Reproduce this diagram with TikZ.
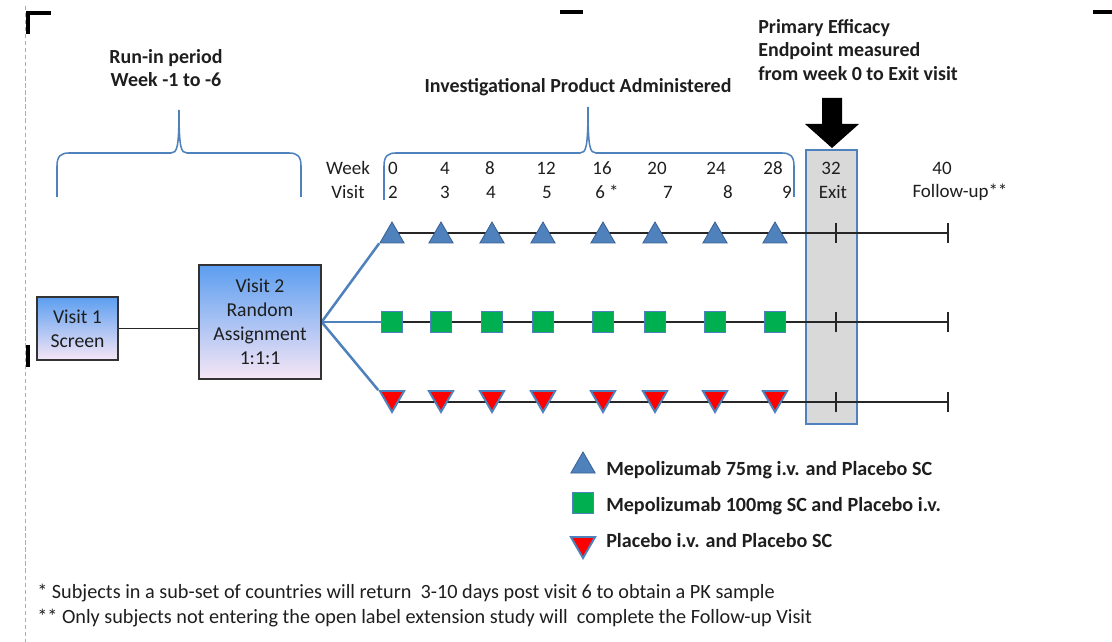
\documentclass[tikz,border=0pt]{standalone}
\usepackage{fontspec}
\setmainfont{Carlito}
\usepackage{tikz}
\usetikzlibrary{shapes,arrows,backgrounds,positioning}

\definecolor{ArmBlue}{RGB}{79,129,189}
\definecolor{ArmEdge}{RGB}{58,98,148}
\definecolor{ArmGreen}{RGB}{0,176,80}
\definecolor{ArmRed}{RGB}{255,0,0}
\definecolor{ExitGray}{RGB}{217,217,217}
\definecolor{BoxTop}{RGB}{92,158,240}
\definecolor{BoxBottom}{RGB}{246,230,246}
\definecolor{TextGray}{RGB}{30,30,30}
\definecolor{PageLine}{RGB}{140,180,225}

\begin{document}
\begin{tikzpicture}[x=0.025cm,y=-0.025cm]
		\tikzstyle{Head}	= [inner sep=0pt, text=TextGray, font=\bfseries\fontsize{14.2}{16.4}\selectfont]
		\tikzstyle{Tick}	= [inner sep=0pt, text=TextGray, font=\fontsize{13.5}{15}\selectfont]
		\tikzstyle{Visit}	= [draw=black!80, line width=0.9pt, top color=BoxTop, bottom color=BoxBottom, align=center, text=TextGray, font=\fontsize{14}{17}\selectfont, inner sep=0pt]
		\tikzstyle{Up}		= [regular polygon, regular polygon sides=3, minimum size=0.7cm, inner sep=0pt, fill=ArmBlue, draw=ArmEdge, line width=0.6pt]
		\tikzstyle{Box}		= [rectangle, minimum size=0.53cm, inner sep=0pt, fill=ArmGreen, draw=ArmBlue, line width=1.1pt]
		\tikzstyle{Down}	= [regular polygon, regular polygon sides=3, shape border rotate=180, minimum size=0.7cm, inner sep=0pt, fill=ArmRed, draw=ArmBlue, line width=1.4pt]
		\tikzstyle{Arm}		= [black!85, line width=1.4pt]
		\tikzstyle{Fan}		= [ArmBlue, line width=1.8pt]
		\tikzstyle{Brace}	= [ArmBlue, line width=1.1pt]
		\tikzstyle{Legend}	= [anchor=west, inner sep=0pt, text=TextGray, font=\bfseries\fontsize{14.3}{16}\selectfont]
		\tikzstyle{Note}	= [anchor=west, inner sep=0pt, text=TextGray, font=\fontsize{14.4}{16}\selectfont]
		\tikzstyle{Crop}	= [black, line width=2.2pt]

		\useasboundingbox (0,0) rectangle (1112,642);

		% page marks
		\draw [PageLine, densely dashed, line width=0.5pt] (25,6) -- (25,642);
		\draw [Crop] (28,34) -- (28,13) -- (51,13);
		\draw [Crop] (560,12) -- (583,12);
		\draw [Crop] (1093,12) -- (1112,12);
		\draw [Crop] (28,345) -- (28,367);

		% headings and braces
		\node (runin) at (166,68) [Head, align=center] {Run-in period\\Week -1 to -6};
		\node (ipa) at (578,87) [Head] {Investigational Product Administered};
		\node (pee) at (758,50) [Head, align=left, anchor=west] {Primary Efficacy\\Endpoint measured\\from week 0 to Exit visit};

		\draw [Brace] (57,197) -- (57,166) .. controls (57,156) and (61,153) .. (69,153) -- (171,153) .. controls (177,153) and (179,148) .. (179,110) .. controls (179,148) and (181,153) .. (187,153) -- (289,153) .. controls (297,153) and (301,156) .. (301,166) -- (301,197);
		\draw [Brace] (384,200) -- (384,166) .. controls (384,156) and (388,153) .. (396,153) -- (580,153) .. controls (586,153) and (588,148) .. (588,107) .. controls (588,148) and (590,153) .. (596,153) -- (782,153) .. controls (790,153) and (794,156) .. (794,166) -- (794,197);

		% week and visit rows
		\node (wk) at (348,168) [Tick] {Week};
		\node (vs) at (348,192) [Tick] {Visit};
		\node (w0) at (393,168) [Tick] {0};
		\node (w4) at (445,168) [Tick] {4};
		\node (w8) at (490,168) [Tick] {8};
		\node (w12) at (546,168) [Tick] {12};
		\node (w16) at (602,168) [Tick] {16};
		\node (w20) at (657,168) [Tick] {20};
		\node (w24) at (716,168) [Tick] {24};
		\node (w28) at (773,168) [Tick] {28};
		\node (w32) at (831,168) [Tick] {32};
		\node (w40) at (942,168) [Tick] {40};
		\node (s2) at (393,192) [Tick] {2};
		\node (s3) at (445,192) [Tick] {3};
		\node (s4) at (491,192) [Tick] {4};
		\node (s5) at (547,192) [Tick] {5};
		\node (s6) at (607,192) [Tick] {6 *};
		\node (s7) at (668,192) [Tick] {7};
		\node (s8) at (728,192) [Tick] {8};
		\node (s9) at (787,192) [Tick] {9};
		\node (sx) at (833,192) [Tick] {Exit};
		\node (sf) at (960,192) [Tick] {Follow-up**};

		% visits 1 and 2
		\node (v1) at (77.5,328.5) [Visit, minimum width=2.03cm, minimum height=1.58cm] {Visit 1\\Screen};
		\node (v2) at (260,322) [Visit, minimum width=3.05cm, minimum height=2.85cm] {Visit 2\\Random\\Assignment\\1:1:1};
		\draw [Arm] (v1.east) -- (v1.east -| v2.west);

		% treatment arms
		\node (a1) at (392,236) [Up] {};
		\node (a2) at (441,236) [Up] {};
		\node (a3) at (492,236) [Up] {};
		\node (a4) at (543,236) [Up] {};
		\node (a5) at (603,236) [Up] {};
		\node (a6) at (655,236) [Up] {};
		\node (a7) at (715,236) [Up] {};
		\node (a8) at (775,236) [Up] {};
		\node (b1) at (392,322) [Box] {};
		\node (b2) at (441,322) [Box] {};
		\node (b3) at (492,322) [Box] {};
		\node (b4) at (543,322) [Box] {};
		\node (b5) at (603,322) [Box] {};
		\node (b6) at (655,322) [Box] {};
		\node (b7) at (715,322) [Box] {};
		\node (b8) at (775,322) [Box] {};
		\node (c1) at (392,398) [Down] {};
		\node (c2) at (441,398) [Down] {};
		\node (c3) at (492,398) [Down] {};
		\node (c4) at (543,398) [Down] {};
		\node (c5) at (603,398) [Down] {};
		\node (c6) at (655,398) [Down] {};
		\node (c7) at (715,398) [Down] {};
		\node (c8) at (775,398) [Down] {};

		\coordinate (aExit) at (836,233);
		\coordinate (aEnd) at (948,233);
		\coordinate (bExit) at (836,322);
		\coordinate (bEnd) at (948,322);
		\coordinate (cExit) at (836,402);
		\coordinate (cEnd) at (948,402);

		\begin{scope}[on background layer]
			\node (exitbox) at (831.5,287) [fill=ExitGray, draw=ArmBlue, line width=1.5pt, minimum width=1.28cm, minimum height=6.85cm] {};
			\draw [Arm] (a1.center |- aEnd) -- (aEnd);
			\draw [Arm] (b1.center) -- (bEnd);
			\draw [Arm] (c1.center |- cEnd) -- (cEnd);
			\draw [Arm] ([yshift=-0.25cm]aExit) -- ([yshift=0.25cm]aExit);
			\draw [Arm] ([yshift=-0.25cm]aEnd) -- ([yshift=0.25cm]aEnd);
			\draw [Arm] ([yshift=-0.25cm]bExit) -- ([yshift=0.25cm]bExit);
			\draw [Arm] ([yshift=-0.25cm]bEnd) -- ([yshift=0.25cm]bEnd);
			\draw [Arm] ([yshift=-0.25cm]cExit) -- ([yshift=0.25cm]cExit);
			\draw [Arm] ([yshift=-0.25cm]cEnd) -- ([yshift=0.25cm]cEnd);
			\draw [Fan] (v2.east) -- (a1.corner 2);
			\draw [Fan] (v2.east) -- (b1.west);
			\draw [Fan] (v2.east) -- (c1.corner 3);
		\end{scope}

		% endpoint arrow
		\fill [black] (822,98) -- (842,98) -- (842,124) -- (859,124) -- (832,148) -- (805,124) -- (822,124) -- cycle;

		% legend
		\node (ka) at (583,466) [Up] {};
		\node (kb) at (583,503) [Box] {};
		\node (kc) at (583,544) [Down] {};
		\node (la) at (606,470) [Legend] {Mepolizumab 75mg i.v. and Placebo SC};
		\node (lb) at (606,506) [Legend] {Mepolizumab 100mg SC and Placebo i.v.};
		\node (lc) at (606,541) [Legend] {Placebo i.v. and Placebo SC};

		% footnotes
		\node (n1) at (37,593) [Note] {* Subjects in a sub-set of countries will return\ \ 3-10 days post visit 6 to obtain a PK sample};
		\node (n2) at (37,618) [Note] {** Only subjects not entering the open label extension study will\ \ complete the Follow-up Visit};
	\end{tikzpicture}
\end{document}
